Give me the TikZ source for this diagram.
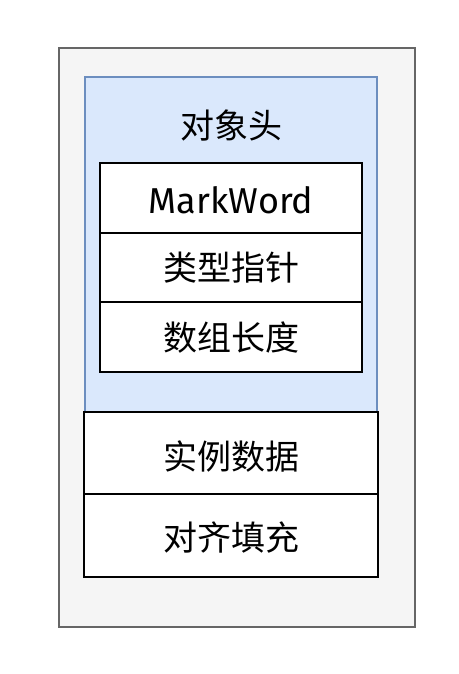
\documentclass[tikz,border=0pt]{standalone}
\usepackage{fontspec}
\setmainfont{Fira Sans}
\newfontfamily\cjk{Noto Sans CJK SC}
\definecolor{outerfill}{HTML}{F5F5F5}
\definecolor{outerline}{HTML}{666666}
\definecolor{bluefill}{HTML}{DAE8FC}
\definecolor{blueline}{HTML}{6C8EBF}
\begin{document}
\begin{tikzpicture}[x=1pt,y=-1pt,
  outerbox/.style={draw=outerline,fill=outerfill,line width=1.5pt},
  headbox/.style={draw=blueline,fill=bluefill,line width=1.2pt},
  cellbox/.style={draw=black,fill=white,line width=1.8pt},
  lbl/.style={font=\cjk\fontsize{34}{36}\selectfont},
  mw/.style={font=\fontsize{36}{38}\selectfont}]
\useasboundingbox (0,0) rectangle (458,674);
\draw[outerbox] (59,48) rectangle (415,627);
\draw[headbox] (85,77) rectangle (377,412);
\node[lbl] (head) at (231,125) {对象头};
\draw[cellbox] (100,163) rectangle (362,233);
\draw[cellbox] (100,233) rectangle (362,302);
\draw[cellbox] (100,302) rectangle (362,372);
\node[mw] (mark) at (231,200) {MarkWord};
\node[lbl] (klass) at (231,268) {类型指针};
\node[lbl] (len) at (231,338) {数组长度};
\draw[cellbox] (84,412) rectangle (378,494);
\draw[cellbox] (84,494) rectangle (378,577);
\node[lbl] (data) at (231,457) {实例数据};
\node[lbl] (pad) at (231,538) {对齐填充};
\end{tikzpicture}
\end{document}
